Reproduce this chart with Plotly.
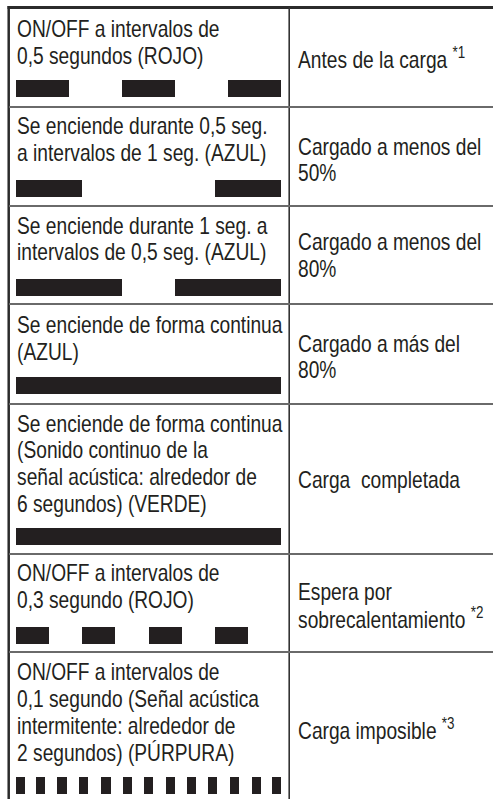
import plotly.graph_objects as go

# ---------------- data ----------------
left_texts = [
    ["ON/OFF a intervalos de", "0,5 segundos (ROJO)"],
    ["Se enciende durante 0,5 seg.", "a intervalos de 1 seg. (AZUL)"],
    ["Se enciende durante 1 seg. a", "intervalos de 0,5 seg. (AZUL)"],
    ["Se enciende de forma continua", "(AZUL)"],
    ["Se enciende de forma continua", "(Sonido continuo de la", "señal acústica: alrededor de", "6 segundos) (VERDE)"],
    ["ON/OFF a intervalos de", "0,3 segundo (ROJO)"],
    ["ON/OFF a intervalos de", "0,1 segundo (Señal acústica", "intermitente: alrededor de", "2 segundos) (PÚRPURA)"],
]
right_texts = [
    ["Antes de la carga <sup>*1</sup>"],
    ["Cargado a menos del", "50%"],
    ["Cargado a menos del", "80%"],
    ["Cargado a más del", "80%"],
    ["Carga\u00a0 completada"],
    ["Espera por", "sobrecalentamiento <sup>*2</sup>"],
    ["Carga imposible <sup>*3</sup>"],
]
# on-segments of each light pattern (schematic time scale 0-100)
seg_starts = [
    [0, 40, 80],
    [0, 75],
    [0, 60],
    [0],
    [0],
    [0, 25, 50, 75],
    [0, 7.5, 15.5, 23.8, 32.2, 40.2, 48.2, 56.5, 64.5, 72.5, 80.8, 89.0, 96.6],
]
seg_ends = [
    [20, 60, 100],
    [25, 100],
    [40, 100],
    [100],
    [100],
    [12.5, 37.5, 62.5, 87.5],
    [3.4, 11.0, 19.2, 27.2, 35.8, 43.8, 51.7, 60.0, 67.9, 75.8, 84.2, 92.5, 100],
]

# ---------------- layout constants (pixels) ----------------
W, H = 493, 799
row_tops = [7, 107, 206, 304, 404, 554, 652]
bar_centers = [88.5, 188, 287.5, 385.5, 536.5, 635.5, 785.5]
left_first_base = [37, 134, 233.5, 333, 431.5, 580.7, 680]
left_step = 26.9
right_bases = [[65.7], [155, 181], [250, 276.5], [352.3, 378.3], [488], [600, 625.7], [737.3]]
bar_x0, bar_x1 = 16, 281
text_left_x = 15
text_right_x = 295.5
FONT = "Liberation Sans, Arial, sans-serif"
FS = 23.4
INK = "#231f20"

fig = go.Figure()
for i, (s, e) in enumerate(zip(seg_starts, seg_ends)):
    fig.add_trace(go.Bar(
        orientation="h",
        base=s,
        x=[b - a for a, b in zip(s, e)],
        y=[bar_centers[i]] * len(s),
        width=17,
        marker=dict(color=INK, line=dict(width=0)),
        hoverinfo="skip",
        showlegend=False,
    ))

shapes = []
def px(x):
    return x / W

shapes.append(dict(type="line", xref="paper", yref="y", x0=px(7.5), x1=1.0, y0=7.5, y1=7.5,
                   line=dict(color="#2b2b2b", width=3)))
shapes.append(dict(type="line", xref="paper", yref="y", x0=px(8.7), x1=px(8.7), y0=6, y1=H,
                   line=dict(color="#2b2b2b", width=2.5)))
shapes.append(dict(type="line", xref="paper", yref="y", x0=px(289.2), x1=px(289.2), y0=7, y1=H,
                   line=dict(color="#333333", width=1.6)))
for y in row_tops[1:]:
    shapes.append(dict(type="line", xref="paper", yref="y", x0=px(9), x1=1.0, y0=y, y1=y,
                       line=dict(color="#6a6a6a", width=2)))

annotations = []
for i, lines in enumerate(left_texts):
    for j, t in enumerate(lines):
        base = left_first_base[i] + j * left_step
        annotations.append(dict(text=t, xref="paper", yref="y", x=px(text_left_x), y=base - 8,
                                xanchor="left", yanchor="middle", showarrow=False,
                                font=dict(family=FONT, size=FS, color=INK)))
for i, lines in enumerate(right_texts):
    for j, t in enumerate(lines):
        base = right_bases[i][j]
        annotations.append(dict(text=t, xref="paper", yref="y", x=px(text_right_x), y=base - 8,
                                xanchor="left", yanchor="middle", showarrow=False,
                                font=dict(family=FONT, size=FS, color=INK)))

fig.update_layout(
    width=W, height=H, autosize=False,
    margin=dict(l=0, r=0, t=0, b=0),
    paper_bgcolor="white", plot_bgcolor="white",
    barmode="overlay",
    xaxis=dict(domain=[px(bar_x0), px(bar_x1)], range=[0, 100], visible=False, fixedrange=True),
    yaxis=dict(domain=[0, 1], range=[H, 0], visible=False, fixedrange=True),
    shapes=shapes, annotations=annotations,
    bargap=0,
)

post = """
document.body.style.margin = '0';
var gd = document.getElementById('{plot_id}');
gd.querySelectorAll('.annotation-text').forEach(function(t) {
  var b = t.getBBox();
  t.setAttribute('transform', 'translate(' + b.x + ',0) scale(0.82,1) translate(' + (-b.x) + ',0)');
});
"""
fig.write_html("out.html", config={"displayModeBar": False}, post_script=post)
